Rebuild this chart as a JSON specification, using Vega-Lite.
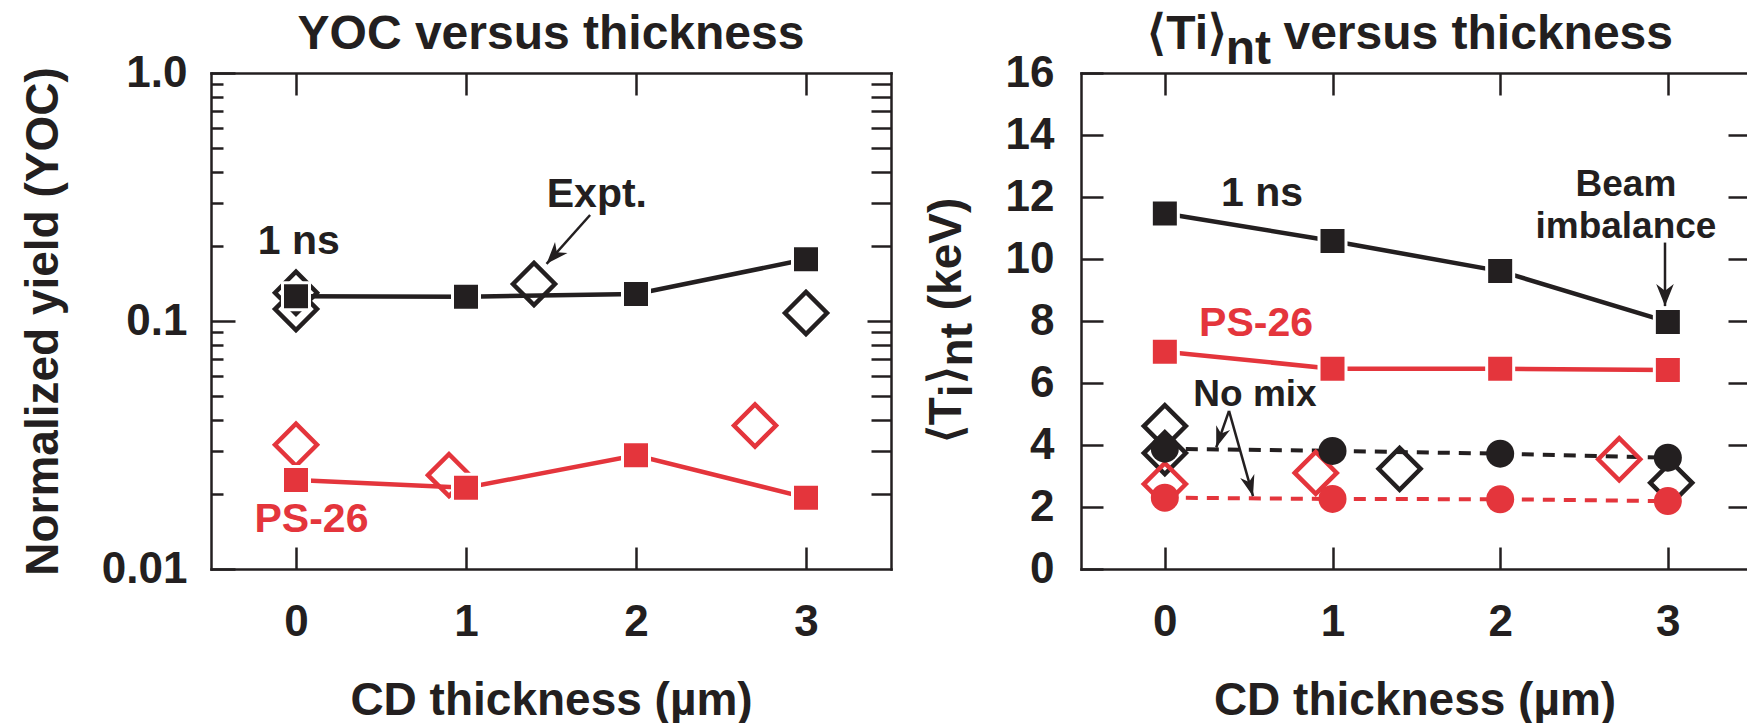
{
  "$schema": "https://vega.github.io/schema/vega-lite/v6.json",
  "background": "white",
  "padding": {"left": 20, "top": 10, "right": 0, "bottom": 0},
  "bounds": "flush",
  "spacing": 190,
  "datasets": {
    "yoc": [
      {"t": 0, "v": 0.1258, "s": "1 ns", "k": "sim"},
      {"t": 1, "v": 0.1253, "s": "1 ns", "k": "sim"},
      {"t": 2, "v": 0.1284, "s": "1 ns", "k": "sim"},
      {"t": 3, "v": 0.1773, "s": "1 ns", "k": "sim"},
      {"t": 0, "v": 0.02285, "s": "PS-26", "k": "sim"},
      {"t": 1, "v": 0.02127, "s": "PS-26", "k": "sim"},
      {"t": 2, "v": 0.02873, "s": "PS-26", "k": "sim"},
      {"t": 3, "v": 0.0194, "s": "PS-26", "k": "sim"},
      {"t": 0, "v": 0.130, "s": "1 ns", "k": "expt"},
      {"t": 0, "v": 0.1117, "s": "1 ns", "k": "expt"},
      {"t": 1.4, "v": 0.141, "s": "1 ns", "k": "expt"},
      {"t": 3, "v": 0.1077, "s": "1 ns", "k": "expt"},
      {"t": 0, "v": 0.0317, "s": "PS-26", "k": "expt"},
      {"t": 0.9, "v": 0.0239, "s": "PS-26", "k": "expt"},
      {"t": 2.7, "v": 0.0379, "s": "PS-26", "k": "expt"}
    ],
    "yocNotes": [
      {"t": 0.017, "v": 0.1858, "label": "1 ns", "s": "1 ns"},
      {"t": 1.77, "v": 0.289, "label": "Expt.", "s": "1 ns"},
      {"t": 0.091, "v": 0.01414, "label": "PS-26", "s": "PS-26"}
    ],
    "yocTitle": [
      {"t": 1.5, "v": 1.2497, "label": "YOC versus thickness"}
    ],
    "yocArrows": [
      {"a": "expt", "t": 1.730, "v": 0.2676, "o": 0},
      {"a": "expt", "t": 1.474, "v": 0.170, "o": 1}
    ],
    "ti": [
      {"t": 0, "v": 11.47, "s": "1 ns", "k": "sim"},
      {"t": 1, "v": 10.58, "s": "1 ns", "k": "sim"},
      {"t": 2, "v": 9.61, "s": "1 ns", "k": "sim"},
      {"t": 3, "v": 7.97, "s": "1 ns", "k": "sim"},
      {"t": 0, "v": 7.01, "s": "PS-26", "k": "sim"},
      {"t": 1, "v": 6.46, "s": "PS-26", "k": "sim"},
      {"t": 2, "v": 6.46, "s": "PS-26", "k": "sim"},
      {"t": 3, "v": 6.42, "s": "PS-26", "k": "sim"},
      {"t": 0, "v": 3.88, "s": "1 ns", "k": "nomix"},
      {"t": 1, "v": 3.81, "s": "1 ns", "k": "nomix"},
      {"t": 2, "v": 3.72, "s": "1 ns", "k": "nomix"},
      {"t": 3, "v": 3.59, "s": "1 ns", "k": "nomix"},
      {"t": 0, "v": 2.30, "s": "PS-26", "k": "nomix"},
      {"t": 1, "v": 2.26, "s": "PS-26", "k": "nomix"},
      {"t": 2, "v": 2.25, "s": "PS-26", "k": "nomix"},
      {"t": 3, "v": 2.19, "s": "PS-26", "k": "nomix"},
      {"t": 0, "v": 4.61, "s": "1 ns", "k": "expt"},
      {"t": 0, "v": 3.74, "s": "1 ns", "k": "expt"},
      {"t": 1.4, "v": 3.23, "s": "1 ns", "k": "expt"},
      {"t": 3.02, "v": 2.78, "s": "1 ns", "k": "expt"},
      {"t": 0, "v": 2.74, "s": "PS-26", "k": "expt"},
      {"t": 0.9, "v": 3.10, "s": "PS-26", "k": "expt"},
      {"t": 2.71, "v": 3.54, "s": "PS-26", "k": "expt"}
    ],
    "tiNotes": [
      {"t": 0.5795, "v": 11.71, "label": "1 ns", "s": "1 ns", "role": "series"},
      {"t": 0.5437, "v": 7.516, "label": "PS-26", "s": "PS-26", "role": "series"},
      {"t": 2.75, "v": 12.03, "label": "Beam", "s": "1 ns", "role": "note"},
      {"t": 2.75, "v": 10.69, "label": "imbalance", "s": "1 ns", "role": "note"},
      {"t": 0.5378, "v": 5.258, "label": "No mix", "s": "1 ns", "role": "note"}
    ],
    "tiTitle": [
      {"t": 0.3708, "v": 16.774, "label": "⟨Ti⟩", "part": "main"},
      {"t": 0.6332, "v": 16.774, "label": "nt", "part": "sub"},
      {"t": 3.0307, "v": 16.774, "label": "versus thickness", "part": "main"}
    ],
    "tiAxisTitle": [
      {"t": -1.2157, "v": 4.055, "label": "⟨", "part": "main"},
      {"t": -1.2157, "v": 4.635, "label": "T", "part": "main"},
      {"t": -1.2157, "v": 5.542, "label": "i", "part": "sub"},
      {"t": -1.2157, "v": 5.955, "label": "⟩", "part": "main"},
      {"t": -1.2157, "v": 6.535, "label": "nt", "part": "sub"},
      {"t": -1.2157, "v": 8.348, "label": "(keV)", "part": "main"}
    ],
    "tiArrows": [
      {"a": "beam", "t": 2.983, "v": 10.53, "o": 0},
      {"a": "beam", "t": 2.983, "v": 8.48, "o": 1},
      {"a": "nomix1", "t": 0.3827, "v": 5.10, "o": 0},
      {"a": "nomix1", "t": 0.3065, "v": 3.92, "o": 1},
      {"a": "nomix2", "t": 0.3827, "v": 5.10, "o": 0},
      {"a": "nomix2", "t": 0.5258, "v": 2.35, "o": 1}
    ]
  },
  "hconcat": [
    {
      "width": 680,
      "height": 496,
      "encoding": {
        "x": {"field": "t", "type": "quantitative", "scale": {"domain": [-0.5, 3.5], "nice": false, "zero": false}, "axis": null},
        "y": {"field": "v", "type": "quantitative", "scale": {"type": "log", "domain": [0.01, 1], "nice": false}, "axis": null},
        "color": {"field": "s", "type": "nominal", "scale": {"domain": ["1 ns", "PS-26"], "range": ["#231f20", "#e4353c"]}, "legend": null}
      },
      "layer": [
        {
          "data": {"name": "yoc"},
          "transform": [{"filter": "datum.k == 'sim'"}],
          "mark": {"type": "line", "strokeWidth": 4.5},
          "encoding": {
            "x": {"field": "t", "type": "quantitative", "scale": {"domain": [-0.5, 3.5], "nice": false, "zero": false},
              "axis": {"orient": "bottom", "values": [0, 1, 2, 3], "format": "d", "title": "CD thickness (µm)", "tickSize": -22, "labelPadding": 53, "titlePadding": 34, "domain": true}},
            "y": {"field": "v", "type": "quantitative", "scale": {"type": "log", "domain": [0.01, 1], "nice": false},
              "axis": {"orient": "left", "values": [0.01, 0.1, 1], "labelExpr": "datum.value >= 0.5 ? '1.0' : (datum.value >= 0.05 ? '0.1' : '0.01')", "tickSize": -24, "labelPadding": 48, "title": "Normalized yield (YOC)", "titlePadding": 34, "domain": true}}
          }
        },
        {
          "data": {"name": "yoc"},
          "transform": [{"filter": "datum.k == 'expt'"}],
          "mark": {"type": "point", "shape": "diamond", "filled": false, "size": 1764, "strokeWidth": 4.5, "opacity": 1},
          "encoding": {
            "x": {"field": "t", "type": "quantitative", "scale": {"domain": [-0.5, 3.5], "nice": false, "zero": false},
              "axis": {"orient": "top", "values": [0, 1, 2, 3], "labels": false, "title": null, "tickSize": -22, "domain": true}},
            "y": {"field": "v", "type": "quantitative", "scale": {"type": "log", "domain": [0.01, 1], "nice": false},
              "axis": {"orient": "left", "values": [0.02, 0.03, 0.04, 0.05, 0.06, 0.07, 0.08, 0.09, 0.2, 0.3, 0.4, 0.5, 0.6, 0.7, 0.8, 0.9], "labels": false, "title": null, "tickSize": -12, "domain": false}}
          }
        },
        {
          "data": {"name": "yoc"},
          "transform": [{"filter": "datum.k == 'sim'"}],
          "mark": {"type": "point", "shape": "square", "filled": true, "size": 729, "stroke": "white", "strokeWidth": 3, "opacity": 1},
          "encoding": {
            "y": {"field": "v", "type": "quantitative", "scale": {"type": "log", "domain": [0.01, 1], "nice": false},
              "axis": {"orient": "right", "values": [0.02, 0.03, 0.04, 0.05, 0.06, 0.07, 0.08, 0.09, 0.2, 0.3, 0.4, 0.5, 0.6, 0.7, 0.8, 0.9], "labels": false, "title": null, "tickSize": -20, "domain": true}}
          }
        },
        {
          "data": {"name": "yocNotes"},
          "mark": {"type": "text", "fontSize": 41, "fontWeight": "bold", "baseline": "alphabetic", "align": "center"},
          "encoding": {
            "text": {"field": "label"},
            "y": {"field": "v", "type": "quantitative", "scale": {"type": "log", "domain": [0.01, 1], "nice": false},
              "axis": {"orient": "right", "values": [0.1], "labels": false, "title": null, "tickSize": -24, "domain": false}}
          }
        },
        {
          "data": {"name": "yocTitle"},
          "mark": {"type": "text", "fontSize": 48, "fontWeight": "bold", "baseline": "alphabetic", "align": "center"},
          "encoding": {"text": {"field": "label"}, "color": {"value": "#231f20"}}
        },
        {
          "data": {"name": "yocArrows"},
          "mark": {"type": "line", "strokeWidth": 2.5},
          "encoding": {"detail": {"field": "a"}, "order": {"field": "o"}, "color": {"value": "#231f20"}}
        },
        {
          "data": {"name": "yocArrows"},
          "transform": [{"filter": "datum.o == 1"}],
          "mark": {"type": "point", "shape": "M0,0L-0.38,-1L0,-0.7L0.38,-1Z", "filled": true, "size": 1936, "angle": 41.8, "strokeWidth": 0, "opacity": 1},
          "encoding": {"color": {"value": "#231f20"}}
        }
      ],
      "resolve": {"axis": {"x": "independent", "y": "independent"}}
    },
    {
      "width": 667,
      "height": 496,
      "encoding": {
        "x": {"field": "t", "type": "quantitative", "scale": {"domain": [-0.5, 3.478], "nice": false, "zero": false}, "axis": null},
        "y": {"field": "v", "type": "quantitative", "scale": {"domain": [0, 16], "nice": false, "zero": false}, "axis": null},
        "color": {"field": "s", "type": "nominal", "scale": {"domain": ["1 ns", "PS-26"], "range": ["#231f20", "#e4353c"]}, "legend": null}
      },
      "layer": [
        {
          "data": {"name": "ti"},
          "transform": [{"filter": "datum.k == 'sim'"}],
          "mark": {"type": "line", "strokeWidth": 4.5},
          "encoding": {
            "x": {"field": "t", "type": "quantitative", "scale": {"domain": [-0.5, 3.478], "nice": false, "zero": false},
              "axis": {"orient": "bottom", "values": [0, 1, 2, 3], "format": "d", "title": "CD thickness (µm)", "tickSize": -22, "labelPadding": 53, "titlePadding": 34, "domain": true}},
            "y": {"field": "v", "type": "quantitative", "scale": {"domain": [0, 16], "nice": false, "zero": false},
              "axis": {"orient": "left", "values": [0, 2, 4, 6, 8, 10, 12, 14, 16], "format": "d", "tickSize": -22, "labelPadding": 49, "title": null, "domain": true}}
          }
        },
        {
          "data": {"name": "ti"},
          "transform": [{"filter": "datum.k == 'nomix'"}],
          "mark": {"type": "line", "strokeWidth": 4, "strokeDash": [12, 9]},
          "encoding": {
            "x": {"field": "t", "type": "quantitative", "scale": {"domain": [-0.5, 3.478], "nice": false, "zero": false},
              "axis": {"orient": "top", "values": [0, 1, 2, 3], "labels": false, "title": null, "tickSize": -22, "domain": true}},
            "y": {"field": "v", "type": "quantitative", "scale": {"domain": [0, 16], "nice": false, "zero": false},
              "axis": {"orient": "right", "values": [2, 4, 6, 8, 10, 12, 14], "labels": false, "title": null, "tickSize": -20, "domain": false}}
          }
        },
        {
          "data": {"name": "ti"},
          "transform": [{"filter": "datum.k == 'expt'"}],
          "mark": {"type": "point", "shape": "diamond", "filled": false, "size": 1764, "strokeWidth": 4.5, "opacity": 1}
        },
        {
          "data": {"name": "ti"},
          "transform": [{"filter": "datum.k == 'nomix'"}],
          "mark": {"type": "point", "shape": "circle", "filled": true, "size": 784, "opacity": 1}
        },
        {
          "data": {"name": "ti"},
          "transform": [{"filter": "datum.k == 'sim'"}],
          "mark": {"type": "point", "shape": "square", "filled": true, "size": 729, "stroke": "white", "strokeWidth": 3, "opacity": 1}
        },
        {
          "data": {"name": "tiNotes"},
          "transform": [{"filter": "datum.role == 'series'"}],
          "mark": {"type": "text", "fontSize": 41, "fontWeight": "bold", "baseline": "alphabetic", "align": "center"},
          "encoding": {"text": {"field": "label"}}
        },
        {
          "data": {"name": "tiNotes"},
          "transform": [{"filter": "datum.role == 'note'"}],
          "mark": {"type": "text", "fontSize": 37, "fontWeight": "bold", "baseline": "alphabetic", "align": "center"},
          "encoding": {"text": {"field": "label"}}
        },
        {
          "data": {"name": "tiTitle"},
          "transform": [{"filter": "datum.part == 'main'"}],
          "mark": {"type": "text", "fontSize": 48, "fontWeight": "bold", "baseline": "alphabetic", "align": "right"},
          "encoding": {"text": {"field": "label"}, "color": {"value": "#231f20"}}
        },
        {
          "data": {"name": "tiTitle"},
          "transform": [{"filter": "datum.part == 'sub'"}],
          "mark": {"type": "text", "fontSize": 48, "fontWeight": "bold", "baseline": "alphabetic", "align": "right", "dy": 15},
          "encoding": {"text": {"field": "label"}, "color": {"value": "#231f20"}}
        },
        {
          "data": {"name": "tiAxisTitle"},
          "transform": [{"filter": "datum.part == 'main'"}],
          "mark": {"type": "text", "fontSize": 46, "fontWeight": "bold", "baseline": "alphabetic", "align": "left", "angle": 270},
          "encoding": {"text": {"field": "label"}, "color": {"value": "#231f20"}}
        },
        {
          "data": {"name": "tiAxisTitle"},
          "transform": [{"filter": "datum.part == 'sub'"}],
          "mark": {"type": "text", "fontSize": 46, "fontWeight": "bold", "baseline": "alphabetic", "align": "left", "angle": 270, "dy": 11},
          "encoding": {"text": {"field": "label"}, "color": {"value": "#231f20"}}
        },
        {
          "data": {"name": "tiArrows"},
          "mark": {"type": "line", "strokeWidth": 2.5},
          "encoding": {"detail": {"field": "a"}, "order": {"field": "o"}, "color": {"value": "#231f20"}}
        },
        {
          "data": {"name": "tiArrows"},
          "transform": [{"filter": "datum.o == 1 && datum.a == 'beam'"}],
          "mark": {"type": "point", "shape": "M0,0L-0.4,-1L0,-0.7L0.4,-1Z", "filled": true, "size": 1936, "angle": 0, "strokeWidth": 0, "opacity": 1},
          "encoding": {"color": {"value": "#231f20"}}
        },
        {
          "data": {"name": "tiArrows"},
          "transform": [{"filter": "datum.o == 1 && datum.a == 'nomix1'"}],
          "mark": {"type": "point", "shape": "M0,0L-0.35,-1L0,-0.7L0.35,-1Z", "filled": true, "size": 1764, "angle": 19.2, "strokeWidth": 0, "opacity": 1},
          "encoding": {"color": {"value": "#231f20"}}
        },
        {
          "data": {"name": "tiArrows"},
          "transform": [{"filter": "datum.o == 1 && datum.a == 'nomix2'"}],
          "mark": {"type": "point", "shape": "M0,0L-0.35,-1L0,-0.7L0.35,-1Z", "filled": true, "size": 1764, "angle": -15.8, "strokeWidth": 0, "opacity": 1},
          "encoding": {"color": {"value": "#231f20"}}
        }
      ],
      "resolve": {"axis": {"x": "independent", "y": "independent"}}
    }
  ],
  "config": {
    "font": "Liberation Sans",
    "view": {"stroke": null},
    "axis": {
      "grid": false,
      "domainColor": "#231f20",
      "domainWidth": 2.5,
      "domainCap": "square",
      "tickColor": "#231f20",
      "tickWidth": 2.5,
      "tickCap": "butt",
      "labelFont": "Liberation Sans",
      "labelFontWeight": "bold",
      "labelFontSize": 44,
      "labelColor": "#231f20",
      "labelOverlap": false,
      "labelFlush": false,
      "titleFont": "Liberation Sans",
      "titleFontWeight": "bold",
      "titleFontSize": 46,
      "titleColor": "#231f20"
    },
    "text": {"font": "Liberation Sans", "fontWeight": "bold"}
  }
}
